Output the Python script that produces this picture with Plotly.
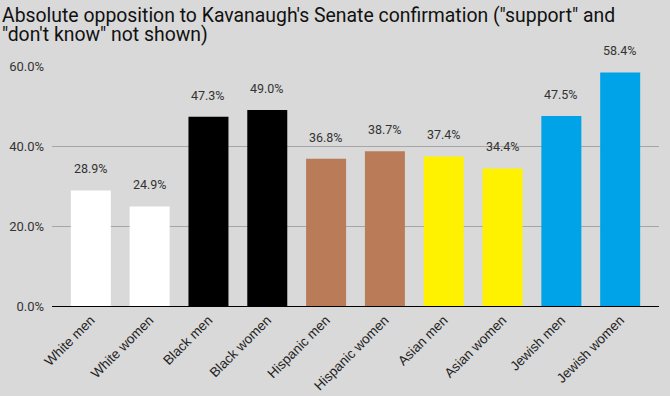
import plotly.graph_objects as go

categories = ["White men", "White women", "Black men", "Black women", "Hispanic men",
              "Hispanic women", "Asian men", "Asian women", "Jewish men", "Jewish women"]
values = [28.9, 24.9, 47.3, 49.0, 36.8, 38.7, 37.4, 34.4, 47.5, 58.4]
colors = ["#ffffff", "#ffffff", "#000000", "#000000", "#b97b58", "#b97b58",
          "#fff200", "#fff200", "#00a2e8", "#00a2e8"]
y_ticks = [0, 20, 40, 60]
y_tick_labels = ["0.0%", "20.0%", "40.0%", "60.0%"]
title_lines = ["Absolute opposition to Kavanaugh's Senate confirmation (\"support\" and",
               "\"don't know\" not shown)"]

fig = go.Figure(go.Bar(
    x=categories, y=values,
    marker=dict(color=colors, line=dict(width=0)),
    width=0.68,
    cliponaxis=False,
    hoverinfo="x+y",
))

for c, v in zip(categories, values):
    fig.add_annotation(
        x=c, y=v, text=f"{v:.1f}%", showarrow=False,
        yanchor="bottom", yshift=12,
        font=dict(family="Roboto", size=12.5, color="#333333"),
    )

for i, line in enumerate(title_lines):
    fig.add_annotation(
        text=line, xref="paper", yref="paper",
        x=-52 / 607, xanchor="left", xshift=0,
        y=1, yanchor="middle", yshift=51 - 19 * i,
        showarrow=False, align="left",
        font=dict(family="Roboto", size=19.4, color="#111111"),
    )

fig.update_layout(
    width=670, height=396,
    paper_bgcolor="#d9d9d9", plot_bgcolor="#d9d9d9",
    margin=dict(l=52, r=11, t=66, b=90, autoexpand=False),
    showlegend=False,
    bargap=0.32,
)
fig.update_xaxes(
    range=[-0.66, 9.66],
    tickangle=-45, automargin=False,
    tickfont=dict(family="Liberation Sans, Arial", size=13.5, color="#222222"),
    showline=True, linecolor="#000000", linewidth=1,
    showgrid=False, ticks="",
)
fig.update_yaxes(
    range=[0, 60], automargin=False,
    tickvals=y_ticks, ticktext=y_tick_labels,
    tickfont=dict(family="Roboto", size=13, color="#333333"),
    showgrid=True, gridcolor="#a6a6a6", gridwidth=1,
    zeroline=False, ticks="", ticklabelstandoff=7,
)

fig.write_html("out.html", config={"displayModeBar": False},
               post_script="document.body.style.margin='0';document.body.style.overflow='hidden';")
